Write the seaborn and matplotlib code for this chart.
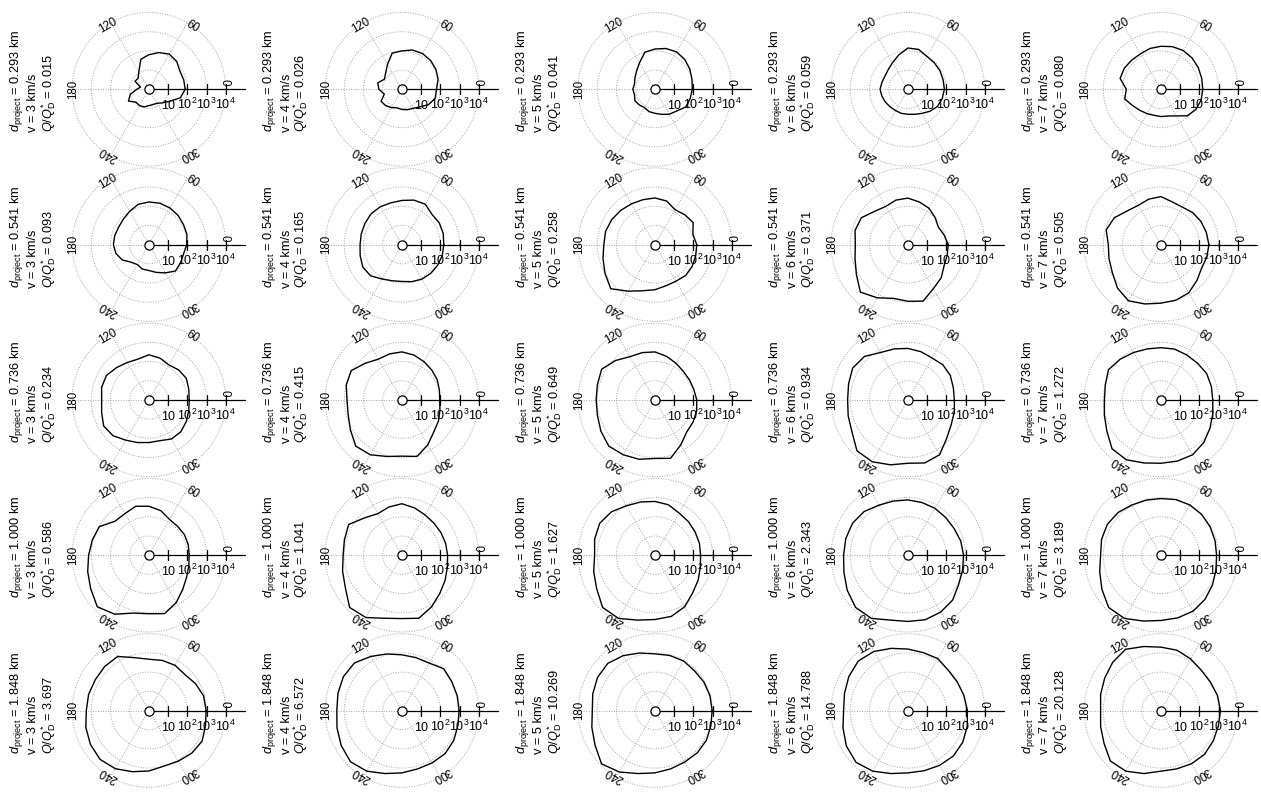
import numpy as np
import matplotlib
matplotlib.use("Agg")
import matplotlib.pyplot as plt
import seaborn as sns
import pandas as pd

sns.set_theme(style="white")
plt.rcParams['font.family'] = ['Liberation Sans', 'DejaVu Sans']
plt.rcParams['mathtext.fontset'] = 'custom'
plt.rcParams['mathtext.rm'] = 'Liberation Sans'
plt.rcParams['mathtext.it'] = 'Liberation Sans:italic'
plt.rcParams['mathtext.bf'] = 'Liberation Sans:bold'

# ---------------- data ----------------
diameters_km = ["0.293", "0.541", "0.736", "1.000", "1.848"]
velocities_kms = [3, 4, 5, 6, 7]
q_over_qd = [
    [0.015, 0.026, 0.041, 0.059, 0.080],
    [0.093, 0.165, 0.258, 0.371, 0.505],
    [0.234, 0.415, 0.649, 0.934, 1.272],
    [0.586, 1.041, 1.627, 2.343, 3.189],
    [3.697, 6.572, 10.269, 14.788, 20.128],
]
angles_deg = list(range(0, 360, 15))
angle_labels = [0, 60, 120, 180, 240, 300]
radial_ticks = [1, 2, 3, 4]
radial_tick_labels = ["10", "10$^2$", "10$^3$", "10$^4$"]

# log10 of the plotted quantity at angles 0,15,...,345 deg; one list per velocity (3..7 km/s)
log_r_d0293 = [
    [1.89, 1.88, 1.87, 2.05, 2.12, 1.98, 1.8, 1.62, 1.05, 0.8, 0.84, 0.45, 0.63, 1.0, 1.23, 0.95, 0.98, 0.95, 0.85, 0.82, 0.84, 1.0, 1.25, 1.7],
    [1.8, 1.95, 2.05, 2.12, 2.15, 2.12, 2.0, 1.95, 1.5, 1.2, 1.05, 1.3, 1.2, 0.95, 1.25, 1.2, 1.1, 1.0, 1.05, 1.1, 1.15, 1.3, 1.6, 1.8],
    [1.95, 2.0, 2.1, 2.2, 2.25, 2.2, 2.1, 2.0, 1.6, 1.35, 1.2, 1.1, 1.15, 1.1, 1.2, 1.15, 1.1, 1.2, 1.25, 1.35, 1.5, 1.6, 1.85, 1.9],
    [1.9, 1.9, 1.93, 1.95, 1.98, 2.15, 2.15, 1.85, 1.6, 1.45, 1.38, 1.4, 1.45, 1.4, 1.35, 1.3, 1.28, 1.3, 1.3, 1.35, 1.45, 1.62, 1.78, 1.85],
    [2.18, 2.2, 2.25, 2.3, 2.33, 2.3, 2.24, 2.2, 2.13, 2.15, 2.2, 2.2, 1.8, 1.95, 1.7, 1.55, 1.46, 1.4, 1.42, 1.44, 1.6, 1.95, 2.1, 2.17],
]
log_r_d0541 = [
    [1.97, 2.05, 2.08, 2.15, 2.2, 2.23, 2.22, 2.17, 2.0, 1.88, 1.82, 1.84, 1.85, 1.78, 1.6, 1.3, 1.2, 1.32, 1.35, 1.5, 1.7, 1.95, 1.9, 1.87],
    [2.18, 2.23, 2.25, 2.22, 2.43, 2.4, 2.3, 2.25, 2.27, 2.27, 2.22, 2.19, 2.18, 2.25, 2.35, 2.3, 2.07, 1.95, 1.92, 2.0, 2.08, 2.12, 2.15, 2.18],
    [2.18, 2.05, 2.3, 2.2, 2.1, 2.35, 2.43, 2.42, 2.45, 2.52, 2.6, 2.66, 2.66, 2.8, 3.0, 3.25, 2.8, 2.49, 2.35, 2.22, 2.2, 2.27, 2.25, 2.2],
    [2.1, 1.95, 1.83, 2.0, 2.19, 2.3, 2.42, 2.4, 2.3, 2.45, 2.8, 2.85, 2.74, 2.85, 3.1, 3.5, 3.2, 2.9, 2.95, 3.05, 2.65, 2.45, 2.18, 2.12],
    [2.5, 2.45, 2.41, 2.35, 2.25, 2.3, 2.5, 2.45, 2.36, 2.48, 2.8, 2.95, 2.74, 2.8, 2.92, 3.2, 3.38, 3.2, 3.05, 3.0, 2.9, 2.65, 2.45, 2.48],
]
log_r_d0736 = [
    [2.1, 2.15, 2.25, 2.2, 2.1, 2.25, 2.35, 2.2, 2.25, 2.38, 2.55, 2.55, 2.46, 2.55, 2.72, 2.64, 2.42, 2.3, 2.22, 2.2, 2.35, 2.35, 2.25, 2.15],
    [1.97, 2.02, 2.12, 2.2, 2.3, 2.42, 2.5, 2.48, 2.45, 2.7, 3.05, 3.0, 2.86, 2.9, 3.1, 3.4, 3.3, 3.05, 2.93, 3.05, 2.7, 2.35, 2.2, 2.05],
    [2.18, 2.1, 2.08, 2.1, 2.2, 2.35, 2.5, 2.55, 2.6, 2.9, 3.2, 3.1, 3.06, 3.1, 3.25, 3.4, 3.3, 3.2, 3.05, 3.15, 2.7, 2.35, 2.3, 2.25],
    [2.42, 2.45, 2.55, 2.58, 2.52, 2.6, 2.68, 2.75, 2.85, 3.2, 3.32, 3.2, 3.14, 3.22, 3.36, 3.75, 3.72, 3.5, 3.3, 3.4, 3.3, 2.85, 2.6, 2.5],
    [2.7, 2.72, 2.75, 2.7, 2.7, 2.74, 2.72, 2.75, 2.85, 3.0, 3.15, 3.0, 2.94, 3.05, 3.25, 3.6, 3.6, 3.4, 3.3, 3.3, 3.3, 3.15, 2.95, 2.8],
]
log_r_d1000 = [
    [2.1, 2.12, 2.14, 2.12, 2.15, 2.4, 2.55, 2.64, 2.5, 2.5, 2.98, 3.05, 3.14, 3.3, 3.5, 3.8, 3.55, 3.12, 3.05, 3.15, 2.85, 2.5, 2.27, 2.15],
    [2.38, 2.36, 2.35, 2.36, 2.42, 2.55, 2.68, 2.6, 2.5, 2.75, 3.2, 3.1, 3.06, 3.2, 3.4, 3.85, 3.75, 3.4, 3.3, 3.4, 3.1, 2.8, 2.6, 2.45],
    [2.38, 2.4, 2.42, 2.47, 2.53, 2.72, 2.8, 2.87, 2.97, 3.2, 3.32, 3.25, 3.14, 3.3, 3.5, 3.85, 3.8, 3.5, 3.35, 3.3, 3.1, 2.78, 2.6, 2.45],
    [2.9, 2.85, 2.78, 2.78, 2.82, 2.84, 2.88, 2.92, 3.01, 3.22, 3.33, 3.35, 3.35, 3.45, 3.65, 3.85, 3.8, 3.5, 3.45, 3.48, 3.42, 3.3, 3.05, 2.95],
    [2.9, 2.92, 2.96, 3.0, 3.02, 3.0, 2.95, 2.97, 3.02, 3.15, 3.22, 3.2, 3.14, 3.3, 3.55, 3.85, 3.8, 3.55, 3.4, 3.38, 3.36, 3.25, 3.1, 2.97],
]
log_r_d1848 = [
    [2.98, 2.95, 2.8, 2.65, 2.72, 2.7, 2.67, 2.85, 3.25, 3.25, 3.22, 3.25, 3.26, 3.4, 3.52, 3.6, 3.5, 3.3, 3.15, 3.0, 3.05, 3.15, 3.2, 3.05],
    [2.98, 2.98, 3.0, 3.08, 2.85, 2.85, 2.9, 3.05, 3.25, 3.5, 3.52, 3.45, 3.39, 3.5, 3.65, 3.78, 3.65, 3.4, 3.25, 3.15, 3.15, 3.18, 3.12, 3.02],
    [2.98, 2.97, 2.95, 2.92, 2.98, 2.97, 2.95, 3.1, 3.3, 3.47, 3.45, 3.35, 3.26, 3.4, 3.6, 3.93, 3.7, 3.4, 3.25, 3.15, 3.1, 3.12, 3.1, 3.02],
    [3.1, 3.02, 2.97, 2.97, 3.12, 3.12, 3.2, 3.35, 3.55, 3.65, 3.55, 3.42, 3.35, 3.5, 3.7, 3.82, 3.65, 3.4, 3.25, 3.25, 3.3, 3.35, 3.3, 3.2],
    [3.1, 3.05, 2.97, 2.97, 3.1, 3.25, 3.3, 3.45, 3.68, 3.55, 3.38, 3.25, 3.14, 3.25, 3.42, 3.72, 3.65, 3.4, 3.16, 3.15, 3.2, 3.22, 3.15, 3.1],
]
log_r_rows = [log_r_d0293, log_r_d0541, log_r_d0736, log_r_d1000, log_r_d1848]

# ---------------- layout ----------------
W, H = 1261, 794
SCALE = 19.2          # pixels per decade
RLIM = 5.2
fig = plt.figure(figsize=(W / 100, H / 100), dpi=100)
fig.patch.set_facecolor("white")

label_pos = {0: (5.0, 3.94), 60: (55.5, 3.98), 120: (122.5, 3.92),
             180: (180.0, 3.94), 240: (237.8, 3.94), 300: (301.8, 3.92)}
grid_kw = dict(color="#a5a5a5", lw=0.7, ls=(0, (1, 1.6)), zorder=1)

circ = np.linspace(0, 2 * np.pi, 361)
for i in range(5):
    for j in range(5):
        cx = 148.9 + 253.0 * j
        cy = 89.3 + 155.3 * i
        half = RLIM * SCALE
        ax = fig.add_axes([(cx - half) / W, 1 - (cy + half) / H, 2 * half / W, 2 * half / H],
                          projection="polar")
        ax.set_axis_off()

        # grid circles and spokes
        for rr in radial_ticks:
            ax.plot(circ, np.full_like(circ, rr), **grid_kw)
        for a in angle_labels[1:]:
            ax.plot([np.deg2rad(a)] * 2, [0, 4], **grid_kw)

        # radial axis with ticks
        ax.plot([0, 0], [0, 5.0], color="black", lw=0.9, zorder=3)
        ax.plot([0] * 4, radial_ticks, ls="none", marker="|", ms=6.5, mew=0.9, color="black", zorder=3)
        for k, lab in zip(radial_ticks, radial_tick_labels):
            ax.annotate(lab, xy=(0, k), xytext=(0, -14.5), textcoords="offset points",
                        ha="center", va="baseline", fontsize=9.0, color="black")

        # angle labels
        for a in angle_labels:
            pa, pr = label_pos[a]
            ax.text(np.deg2rad(pa), pr, str(a), rotation=a - 90, rotation_mode="anchor",
                    ha="center", va="center", fontsize=8.3, color="black", zorder=2)

        # data curve
        vals = log_r_rows[i][j]
        df = pd.DataFrame({
            "theta": np.deg2rad(angles_deg + [360]),
            "logr": vals + [vals[0]],
        })
        sns.lineplot(data=df, x="theta", y="logr", ax=ax, sort=False, estimator=None,
                     color="black", lw=1.0, zorder=4)
        ax.plot([0], [0], marker="o", ms=6.6, mfc="white", mec="black", mew=0.9, zorder=6)
        ax.set_ylim(0, RLIM)
        ax.set_axis_off()

        # side text
        x0 = cx - 148.9
        ystart = 1 - (cy + 43) / H
        lines = [
            (18.5, r"$d_{\mathrm{project}}$ = " + diameters_km[i] + " km"),
            (36.5, "v = %d km/s" % velocities_kms[j]),
            (52.0, r"$Q/Q_{\mathrm{D}}^{*}$ = " + "%.3f" % q_over_qd[i][j]),
        ]
        for bx, s in lines:
            fig.text((x0 + bx) / W, ystart, s, rotation=90, rotation_mode="anchor",
                     ha="left", va="baseline", fontsize=9.2, color="black")

fig.savefig("out.png", dpi=100, facecolor="white")
